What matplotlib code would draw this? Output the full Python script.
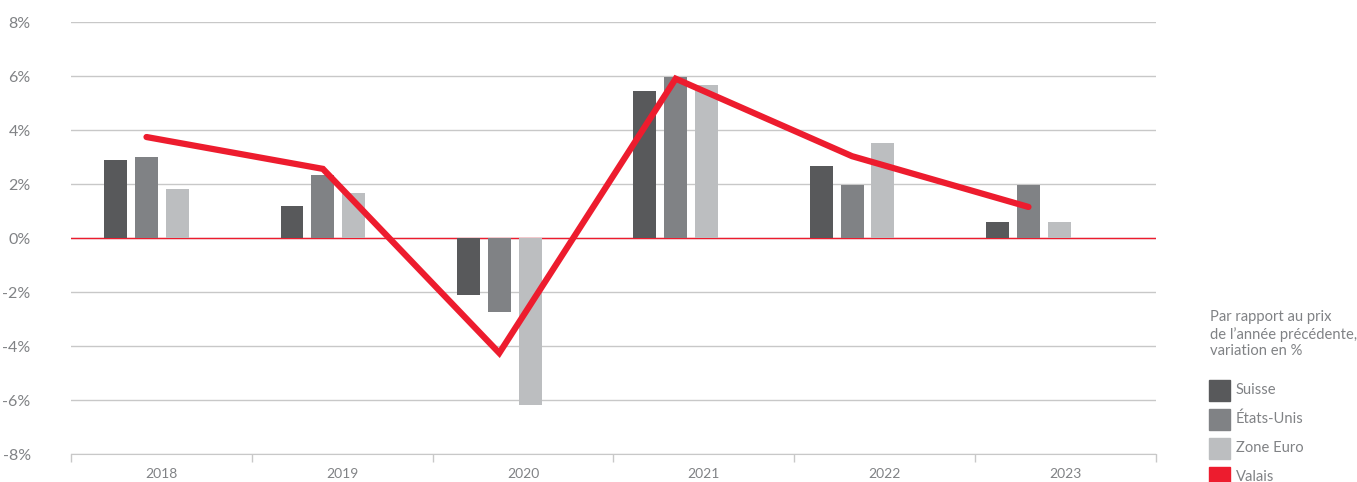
import matplotlib
matplotlib.use("Agg")
import matplotlib.pyplot as plt
from matplotlib.patches import Rectangle
import numpy as np

years = ["2018", "2019", "2020", "2021", "2022", "2023"]
suisse = [2.9, 1.2, -2.1, 5.45, 2.65, 0.6]
etats_unis = [3.0, 2.35, -2.75, 5.97, 1.98, 1.98]
zone_euro = [1.8, 1.67, -6.2, 5.68, 3.53, 0.6]
valais = [3.74, 2.56, -4.26, 5.9, 3.03, 1.15]
series_names = ["Suisse", "États-Unis", "Zone Euro", "Valais"]
yticks = [-8, -6, -4, -2, 0, 2, 4, 6, 8]
legend_title = "Par rapport au prix\nde l’année précédente,\nvariation en %"

colors = ["#58595b", "#808285", "#bcbec0", "#ed1c2e"]
txt_col = "#808285"
plt.rcParams["font.family"] = ["Lato", "DejaVu Sans"]

W, H = 1357, 482
fig = plt.figure(figsize=(W / 100, H / 100), dpi=100)
L, R, T, B = 71, 1156, 22, 454
rect = [L / W, (H - B) / H, (R - L) / W, (B - T) / H]

# category axis (labels and separators)
axc = fig.add_axes(rect)
n = len(years)
axc.set_xlim(-0.5, n - 0.5)
axc.set_ylim(-8, 8)
axc.set_xticks(np.arange(-0.5, n, 1.0))
axc.set_xticklabels([])
axc.set_xticks(np.arange(n), minor=True)
axc.set_xticklabels(years, minor=True)
axc.tick_params(axis="x", which="major", length=6, color="#c8c8c8", width=1)
axc.tick_params(axis="x", which="minor", length=0, pad=10, labelsize=10, labelcolor=txt_col)
axc.set_yticks(yticks)
axc.set_yticklabels([f"{v}%" for v in yticks])
axc.tick_params(axis="y", length=0, pad=29, labelsize=11.5, labelcolor=txt_col)
for s in ["top", "right", "left"]:
    axc.spines[s].set_visible(False)
axc.spines["bottom"].set_color("#c8c8c8")
axc.grid(axis="y", color="#c8c8c8", lw=1)
axc.set_axisbelow(True)
axc.patch.set_alpha(0)

# data axis (bars + line), groups slightly more tightly spaced
ax = fig.add_axes(rect)
ax.patch.set_alpha(0)
ax.set_xlim(-0.428, 5.723)
ax.set_ylim(-8, 8)
ax.axis("off")
x = np.arange(n)
bw = 0.13
step = 0.175
ax.axhline(0, color=colors[3], lw=1, zorder=1)
ax.bar(x - step, suisse, bw, color=colors[0], zorder=2)
ax.bar(x, etats_unis, bw, color=colors[1], zorder=2)
ax.bar(x + step, zone_euro, bw, color=colors[2], zorder=2)
ax.plot(x, valais, color=colors[3], lw=4.5, solid_capstyle="round", solid_joinstyle="miter", zorder=3)

# legend
fig.text(1210 / W, 1 - 310 / H, legend_title, ha="left", va="top", fontsize=10.6,
         color=txt_col, linespacing=1.22)
for i, name in enumerate(series_names):
    yc = 390 + 29 * i
    fig.patches.append(Rectangle((1209 / W, 1 - (yc + 10.5) / H), 21 / W, 21 / H,
                                 transform=fig.transFigure, color=colors[i], figure=fig))
    fig.text(1236 / W, 1 - yc / H, name, ha="left", va="center", fontsize=10.6, color=txt_col)

fig.savefig("out.png", dpi=100)
